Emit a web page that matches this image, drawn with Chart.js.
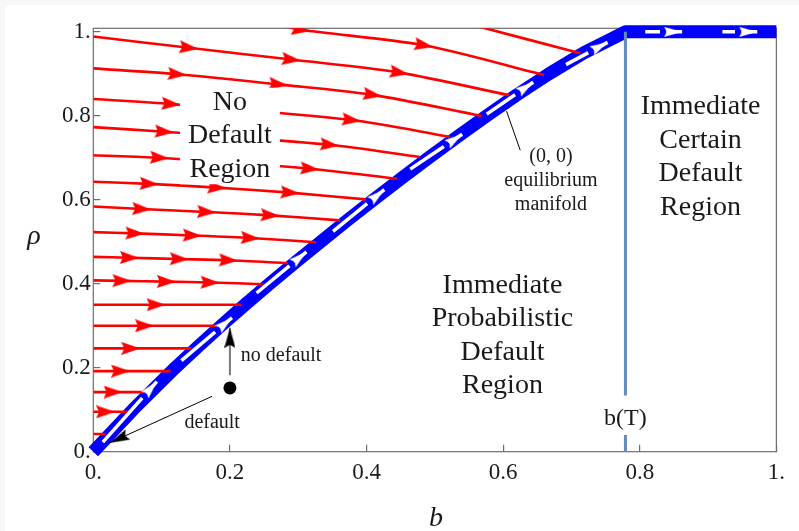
<!DOCTYPE html>
<html>
<head>
<meta charset="utf-8">
<script src="https://cdn.jsdelivr.net/npm/chart.js@4.4.1/dist/chart.umd.min.js"></script>
<style>
  html, body { margin: 0; padding: 0; background: #f7f7f7; }
  #wrap { position: absolute; left: 5px; top: 5px; width: 794px; height: 526px; background: #fff; }
</style>
</head>
<body>
<div id="wrap"><canvas id="phase" width="794" height="526"></canvas></div>
<script>
// axis ticks
const xTicks = [0, 0.2, 0.4, 0.6, 0.8, 1];
const xTickLabels = ['0.', '0.2', '0.4', '0.6', '0.8', '1.'];
const yTicks = [0, 0.2, 0.4, 0.6, 0.8, 1];
const yTickLabels = ['0.', '0.2', '0.4', '0.6', '0.8', '1.'];

// (0,0) equilibrium manifold, [b, rho]
const manifold = [[0, 0], [0.029, 0.05], [0.058, 0.1], [0.089, 0.15], [0.12, 0.2], [0.153, 0.25],
  [0.187, 0.3], [0.222, 0.35], [0.258, 0.4], [0.295, 0.45], [0.333, 0.5], [0.371, 0.55],
  [0.41, 0.6], [0.45, 0.65], [0.491, 0.7], [0.533, 0.75], [0.576, 0.8], [0.62, 0.85],
  [0.667, 0.9], [0.718, 0.95], [0.779, 1], [1, 1]];

// white arrows running along the manifold
const manifoldArrows = [
  [[0.014, 0.023], [0.093, 0.167]],
  [[0.129, 0.217], [0.203, 0.319]],
  [[0.239, 0.378], [0.312, 0.476]],
  [[0.351, 0.525], [0.426, 0.624]],
  [[0.464, 0.673], [0.54, 0.756]],
  [[0.576, 0.804], [0.644, 0.88]],
  [[0.692, 0.922], [0.753, 0.975]],
  [[0.808, 1], [0.862, 1]],
  [[0.921, 1], [0.972, 1]]
];

// red flow lines; interior points carry an arrowhead
const flowTop2 = [[0.547, 1.02], [0.713, 0.949]];
const flowTop1 = [[0.262, 1.02], [0.304, 1.005], [0.484, 0.968], [0.66, 0.897]];
const flow1 = [[0, 0.989], [0.14, 0.962], [0.29, 0.934], [0.448, 0.903], [0.609, 0.849]];
const flow2 = [[0, 0.913], [0.123, 0.899], [0.271, 0.875], [0.409, 0.85], [0.568, 0.8]];
const flow3 = [[0, 0.84], [0.114, 0.828], [0.378, 0.79], [0.522, 0.75]];
const flow4 = [[0, 0.773], [0.104, 0.762], [0.346, 0.731], [0.478, 0.702]];
const flow5 = [[0, 0.706], [0.097, 0.7], [0.317, 0.674], [0.445, 0.65]];
const flow6 = [[0, 0.643], [0.082, 0.638], [0.181, 0.629], [0.288, 0.617], [0.399, 0.601]];
const flow7 = [[0, 0.584], [0.071, 0.578], [0.166, 0.571], [0.259, 0.563], [0.361, 0.551]];
const flow8 = [[0, 0.523], [0.061, 0.52], [0.145, 0.515], [0.23, 0.509], [0.326, 0.499]];
const flow9 = [[0, 0.464], [0.053, 0.462], [0.126, 0.459], [0.198, 0.456], [0.285, 0.449]];
const flow10 = [[0, 0.408], [0.042, 0.407], [0.107, 0.405], [0.171, 0.403], [0.249, 0.399]];
const flow11 = [[0, 0.35], [0.092, 0.35], [0.217, 0.35]];
const flow12 = [[0, 0.3], [0.075, 0.3], [0.18, 0.3]];
const flow13 = [[0, 0.246], [0.055, 0.246], [0.143, 0.246]];
const flow14 = [[0, 0.192], [0.04, 0.192], [0.113, 0.192]];
const flow15 = [[0, 0.142], [0.029, 0.142], [0.075, 0.142]];
const flow16 = [[0, 0.095], [0.018, 0.095], [0.05, 0.095]];
const flow17 = [[0, 0.042], [0.018, 0.042]];
const flows = [flowTop2, flowTop1, flow1, flow2, flow3, flow4, flow5, flow6, flow7, flow8,
  flow9, flow10, flow11, flow12, flow13, flow14, flow15, flow16, flow17];

// b(T) marker (gap left for its label) and the annotations
const bT = [[0.779, 1], [0.779, 0.134], [0.779, null], [0.779, 0.04], [0.779, 0]];
const startPoint = [[0.2, 0.152]];
const noDefaultArrow = [[0.2, 0.182], [0.2, 0.295]];
const defaultArrow = [[0.174, 0.132], [0.024, 0.021]];
const manifoldLeader = [[0.605, 0.811], [0.625, 0.718]];

const noDefaultLines = ['No', 'Default', 'Region'];
const certainLines = ['Immediate', 'Certain', 'Default', 'Region'];
const probLines = ['Immediate', 'Probabilistic', 'Default', 'Region'];
const manifoldLines = ['(0, 0)', 'equilibrium', 'manifold'];

const FONT = '"Liberation Serif", "DejaVu Serif", serif';

function makeHead(len, wid, color, tipAtCenter, gap) {
    const c = document.createElement('canvas');
    c.width = tipAtCenter ? len * 2 : len;
    c.height = wid;
    const g = c.getContext('2d');
    if (gap) {
        g.fillStyle = '#0000ff';
        g.fillRect(0, wid / 2 - 3, gap + 2, 6);
    }
    const x0 = gap || 0;
    g.fillStyle = color;
    g.beginPath();
    g.moveTo(len, wid / 2);
    g.lineTo(x0, 0);
    g.lineTo(x0 + (len - x0) * 0.15, wid / 2);
    g.lineTo(x0, wid);
    g.closePath();
    g.fill();
    return c;
}

const redHead = makeHead(19, 13, '#ff0000', false);
const whiteHead = makeHead(22, 10, '#ffffff', true, 4);
const blackHead = makeHead(20, 11, '#000000', true);

const pts = arr => arr.map(([x, y]) => ({ x, y }));

function headAngle(ctx) {
    const d = ctx.dataset.data;
    const i = ctx.dataIndex;
    const a = d[Math.max(i - 1, 0)], b = d[Math.min(i + 1, d.length - 1)];
    const sx = ctx.chart.scales.x, sy = ctx.chart.scales.y;
    const dx = sx.getPixelForValue(b.x) - sx.getPixelForValue(a.x);
    const dy = sy.getPixelForValue(b.y) - sy.getPixelForValue(a.y);
    return Math.atan2(dy, dx) * 180 / Math.PI;
}

const interior = ctx => ctx.dataIndex > 0 && ctx.dataIndex < ctx.dataset.data.length - 1;
const last = ctx => ctx.dataIndex === ctx.dataset.data.length - 1;

const datasets = [];

datasets.push({
    data: pts(bT), borderColor: '#6689c0', borderWidth: 3, pointRadius: 0,
    spanGaps: false, clip: false, order: 0
});
datasets.push({
    data: pts(noDefaultArrow), borderColor: '#7a7a7a', borderWidth: 2,
    pointStyle: blackHead, pointRadius: ctx => last(ctx) ? 8 : 0, pointRotation: headAngle, order: 0
});
datasets.push({
    data: pts(defaultArrow), borderColor: '#000', borderWidth: 1,
    pointStyle: blackHead, pointRadius: ctx => last(ctx) ? 8 : 0, pointRotation: headAngle, order: 0
});
datasets.push({
    data: pts(manifoldLeader), borderColor: '#000', borderWidth: 1, pointRadius: 0, order: 0
});
datasets.push({
    data: pts(startPoint), showLine: false, pointRadius: 6.5, pointBackgroundColor: '#000',
    pointBorderWidth: 0, order: 0
});

for (const arrow of manifoldArrows) {
    datasets.push({
        data: pts(arrow), borderColor: '#ffffff', borderWidth: 3.5, clip: false,
        pointStyle: whiteHead, pointRadius: ctx => last(ctx) ? 8 : 0, pointRotation: headAngle, order: 1
    });
}

for (const f of flows) {
    datasets.push({
        data: pts(f), borderColor: '#ff0000', borderWidth: 2.6, tension: 0.3, clip: 0,
        pointStyle: redHead, pointRadius: ctx => interior(ctx) ? 8 : 0, pointRotation: headAngle, order: 2
    });
}

datasets.push({
    data: pts(manifold), borderColor: '#0000ff', borderWidth: 13, pointRadius: 0,
    borderJoinStyle: 'round', clip: false, order: 3
});

const textBlocks = [
    { lines: noDefaultLines, at: [0.2, 0.752], size: 28, step: 33.5, box: true },
    { lines: certainLines, at: [0.889, 0.702], size: 28, step: 33.5 },
    { lines: probLines, at: [0.599, 0.276], size: 28, step: 33.5 },
    { lines: manifoldLines, at: [0.67, 0.646], size: 20, step: 24 },
    { lines: ['no default'], at: [0.216, 0.229], size: 20, step: 24, align: 'left' },
    { lines: ['default'], at: [0.174, 0.068], size: 20, step: 24 },
    { lines: ['b(T)'], at: [0.779, 0.079], size: 24, step: 24 }
];

function drawBlock(chart, blk) {
    const ctx = chart.ctx;
    const x = chart.scales.x.getPixelForValue(blk.at[0]);
    const y = chart.scales.y.getPixelForValue(blk.at[1]);
    ctx.font = `${blk.size}px ${FONT}`;
    const n = blk.lines.length;
    const top = y - (n - 1) * blk.step / 2;
    if (blk.box) {
        const w = Math.max(...blk.lines.map(l => ctx.measureText(l).width)) + 16;
        ctx.fillStyle = '#fff';
        ctx.fillRect(x - w / 2, top - blk.step / 2 + 2, w, n * blk.step - 4);
    }
    ctx.fillStyle = '#1a1a1a';
    ctx.textAlign = blk.align || 'center';
    ctx.textBaseline = 'middle';
    blk.lines.forEach((l, i) => ctx.fillText(l, x, top + i * blk.step));
}

const decor = {
    id: 'decor',
    beforeDatasetsDraw(chart) {
        const { ctx, chartArea: a } = chart;
        ctx.save();
        ctx.strokeStyle = '#6e6e6e';
        ctx.lineWidth = 1.2;
        ctx.strokeRect(a.left, a.top, a.right - a.left, a.bottom - a.top);
        ctx.restore();
    },
    afterDatasetsDraw(chart) {
        const ctx = chart.ctx;
        ctx.save();
        textBlocks.forEach(b => drawBlock(chart, b));
        ctx.font = `italic 28px ${FONT}`;
        ctx.fillStyle = '#1a1a1a';
        ctx.textAlign = 'center';
        ctx.textBaseline = 'middle';
        ctx.fillText('ρ', 29, 232);
        ctx.fillText('b', 431, 514);
        ctx.restore();
    }
};

new Chart(document.getElementById('phase'), {
    type: 'line',
    data: { datasets },
    plugins: [decor],
    options: {
        responsive: false,
        animation: false,
        events: [],
        layout: { padding: { left: 0, right: 16.7, top: 20.7, bottom: 0 } },
        plugins: { legend: { display: false }, tooltip: { enabled: false } },
        scales: {
            x: {
                type: 'linear', min: 0, max: 1,
                afterBuildTicks: s => { s.ticks = xTicks.map(v => ({ value: v })); },
                afterFit: s => { s.height = 79.3; },
                border: { display: false },
                grid: { drawOnChartArea: false, tickLength: -7, color: '#6e6e6e', lineWidth: 1.2 },
                ticks: {
                    padding: 14, color: '#1a1a1a', maxRotation: 0,
                    font: { family: FONT, size: 23 },
                    callback: (v, i) => xTickLabels[i]
                }
            },
            y: {
                type: 'linear', min: 0, max: 1.0085,
                afterBuildTicks: s => { s.ticks = yTicks.map(v => ({ value: v })); },
                afterFit: s => { s.width = 88.3; },
                border: { display: false },
                grid: { drawOnChartArea: false, tickLength: -7, color: '#6e6e6e', lineWidth: 1.2 },
                ticks: {
                    padding: 9.5, color: '#1a1a1a',
                    font: { family: FONT, size: 23 },
                    callback: (v, i) => yTickLabels[i]
                }
            }
        }
    }
});
</script>
</body>
</html>
